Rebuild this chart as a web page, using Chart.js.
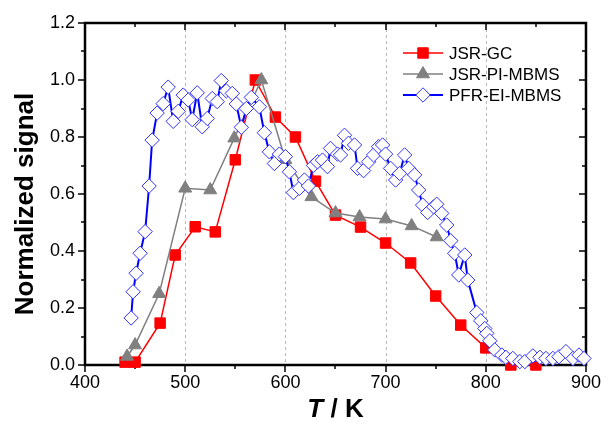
<!DOCTYPE html>
<html>
<head>
<meta charset="utf-8">
<script src="https://cdn.jsdelivr.net/npm/chart.js@4.4.0/dist/chart.umd.min.js"></script>
<style>
  html, body { margin: 0; padding: 0; background: #fff; }
  #wrap { width: 608px; height: 435px; }
</style>
</head>
<body>
<div id="wrap"><canvas id="chart" width="608" height="435"></canvas></div>
<script>
// JSR-GC (red squares)
const jsrGcT = [440, 450, 475, 490, 510, 530, 550, 570, 590, 610, 630, 650, 675, 700, 725, 750, 775, 800, 825, 850];
const jsrGcSignal = [0.01, 0.01, 0.147, 0.386, 0.485, 0.467, 0.72, 1.0, 0.87, 0.80, 0.645, 0.526, 0.484, 0.428, 0.358, 0.242, 0.14, 0.06, 0.0, 0.0];

// JSR-PI-MBMS (grey triangles)
const jsrPiT = [442, 450, 474, 500, 525, 549, 576, 600, 626, 650, 674, 700, 726, 751];
const jsrPiSignal = [0.03, 0.07, 0.25, 0.62, 0.614, 0.796, 1.0, 0.72, 0.59, 0.533, 0.519, 0.512, 0.488, 0.449];

// PFR-EI-MBMS (blue open diamonds)
const pfrT = [446, 448, 451, 455, 460, 464, 467, 472, 478, 483, 488, 493, 498, 503, 507, 512, 517, 522, 527, 532,
  536, 541, 547, 551, 556, 561, 566, 574, 579, 584, 589, 594, 600, 604, 608, 614, 619, 623, 628, 632,
  637, 642, 645, 652, 655, 659, 663, 669, 672, 678, 683, 688, 693, 697, 700, 705, 710, 714, 719, 723,
  729, 733, 737, 742, 748, 751, 756, 761, 765, 769, 773, 779, 782, 791, 795, 799, 801, 804, 809, 816,
  820, 827, 834, 839, 847, 854, 860, 867, 873, 880, 887, 893, 898];
const pfrSignal = [0.165, 0.257, 0.322, 0.392, 0.468, 0.628, 0.789, 0.884, 0.917, 0.975, 0.855, 0.89, 0.947, 0.93, 0.861, 0.955, 0.836, 0.865, 0.935, 0.924,
  0.998, 0.962, 0.953, 0.916, 0.834, 0.90, 0.939, 0.906, 0.815, 0.748, 0.707, 0.74, 0.731, 0.678, 0.605, 0.62, 0.649, 0.628, 0.70, 0.713,
  0.719, 0.696, 0.76, 0.74, 0.737, 0.806, 0.778, 0.772, 0.69, 0.682, 0.713, 0.737, 0.766, 0.772, 0.74, 0.69, 0.649, 0.672, 0.737, 0.69,
  0.667, 0.614, 0.561, 0.535, 0.555, 0.564, 0.532, 0.491, 0.436, 0.392, 0.316, 0.386, 0.298, 0.184, 0.155, 0.128, 0.111, 0.085, 0.053, 0.035,
  0.027, 0.023, 0.012, 0.012, 0.032, 0.027, 0.023, 0.023, 0.029, 0.047, 0.023, 0.035, 0.023];

const xTicks = [400, 500, 600, 700, 800, 900];
const yTicks = [0.0, 0.2, 0.4, 0.6, 0.8, 1.0, 1.2];
const gridX = [500, 600, 700, 800];
const seriesNames = ['JSR-GC', 'JSR-PI-MBMS', 'PFR-EI-MBMS'];

const FONT = '"Liberation Sans", Arial, sans-serif';

function toPoints(xs, ys) {
  return xs.map((x, i) => ({ x: x, y: ys[i] }));
}

// dashed grid, axis box, mirrored ticks, minor ticks, titles and legend
const framePlugin = {
  id: 'frame',
  beforeDatasetsDraw(chart) {
    const ctx = chart.ctx;
    const a = chart.chartArea;
    const xs = chart.scales.x, ys = chart.scales.y;
    ctx.save();
    // dashed vertical grid lines
    ctx.strokeStyle = '#b8b8b8';
    ctx.lineWidth = 1;
    ctx.setLineDash([3, 3]);
    ctx.beginPath();
    gridX.forEach(v => {
      const px = Math.round(xs.getPixelForValue(v)) + 0.5;
      ctx.moveTo(px, a.top); ctx.lineTo(px, a.bottom);
    });
    ctx.stroke();
    ctx.setLineDash([]);

    ctx.strokeStyle = '#000';
    ctx.lineWidth = 1.5;
    ctx.beginPath();
    for (let v = 400; v <= 900; v += 50) {
      const px = Math.round(xs.getPixelForValue(v));
      const len = v % 100 === 0 ? 7 : 4;
      ctx.moveTo(px, a.bottom); ctx.lineTo(px, a.bottom + len);
      ctx.moveTo(px, a.top); ctx.lineTo(px, a.top + len);
    }
    for (let i = 0; i <= 12; i++) {
      const py = Math.round(ys.getPixelForValue(i / 10));
      const len = i % 2 === 0 ? 7 : 4;
      ctx.moveTo(a.left, py); ctx.lineTo(a.left - len, py);
      ctx.moveTo(a.right, py); ctx.lineTo(a.right - len, py);
    }
    ctx.stroke();
    ctx.lineWidth = 2.5;
    ctx.strokeRect(a.left, a.top, a.right - a.left, a.bottom - a.top);
    ctx.restore();
  },
  afterDraw(chart) {
    const ctx = chart.ctx;
    const a = chart.chartArea;
    ctx.save();
    ctx.fillStyle = '#000';

    // y title
    ctx.save();
    ctx.translate(26, 204);
    ctx.rotate(-Math.PI / 2);
    ctx.font = 'bold 26px ' + FONT;
    ctx.textAlign = 'center';
    ctx.textBaseline = 'middle';
    ctx.fillText('Normalized signal', 0, 0);
    ctx.restore();

    // x title: italic T, upright " / K"
    ctx.textBaseline = 'middle';
    ctx.textAlign = 'left';
    ctx.font = 'italic bold 26px ' + FONT;
    const tW = ctx.measureText('T').width;
    ctx.font = 'bold 26px ' + FONT;
    const restW = ctx.measureText(' / K').width;
    const x0 = (a.left + a.right) / 2 - (tW + restW) / 2;
    ctx.font = 'italic bold 26px ' + FONT;
    ctx.fillText('T', x0, 410);
    ctx.font = 'bold 26px ' + FONT;
    ctx.fillText(' / K', x0 + tW, 410);

    // legend
    ctx.font = '17px ' + FONT;
    chart.data.datasets.forEach((ds, i) => {
      const y = 53 + i * 21;
      ctx.strokeStyle = ds.borderColor;
      ctx.lineWidth = ds.borderWidth;
      ctx.beginPath();
      ctx.moveTo(403, y); ctx.lineTo(443, y);
      ctx.stroke();
      ctx.fillStyle = ds.pointBackgroundColor;
      ctx.strokeStyle = ds.pointBorderColor;
      ctx.lineWidth = ds.pointBorderWidth;
      Chart.helpers.drawPoint(ctx, {
        pointStyle: ds.pointStyle,
        radius: ds.pointRadius,
        borderWidth: ds.pointBorderWidth
      }, 423, y);
      ctx.fillStyle = '#000';
      ctx.textAlign = 'left';
      ctx.fillText(ds.label, 449, y + 1);
    });
    ctx.restore();
  }
};

new Chart(document.getElementById('chart'), {
  type: 'scatter',
  data: {
    datasets: [
      {
        label: seriesNames[0],
        data: toPoints(jsrGcT, jsrGcSignal),
        showLine: true,
        borderColor: '#ff0000',
        borderWidth: 1.5,
        pointStyle: 'rect',
        pointRadius: 7.4,
        pointBackgroundColor: '#ff0000',
        pointBorderColor: '#ff0000',
        pointBorderWidth: 1,
        clip: false,
        order: 3
      },
      {
        label: seriesNames[1],
        data: toPoints(jsrPiT, jsrPiSignal),
        showLine: true,
        borderColor: '#808080',
        borderWidth: 1.5,
        pointStyle: 'triangle',
        pointRadius: 7.5,
        pointBackgroundColor: '#808080',
        pointBorderColor: '#808080',
        pointBorderWidth: 1,
        clip: false,
        order: 2
      },
      {
        label: seriesNames[2],
        data: toPoints(pfrT, pfrSignal),
        showLine: true,
        borderColor: '#0000ff',
        borderWidth: 2,
        pointStyle: 'rectRot',
        pointRadius: 7.2,
        pointBackgroundColor: '#ffffff',
        pointBorderColor: '#3030ff',
        pointBorderWidth: 1,
        clip: false,
        order: 1
      }
    ]
  },
  options: {
    responsive: false,
    animation: false,
    layout: { padding: { top: 23, right: 20, left: 0, bottom: 0 } },
    plugins: {
      legend: { display: false },
      tooltip: { enabled: false }
    },
    scales: {
      x: {
        type: 'linear',
        min: 400,
        max: 900,
        afterFit(s) { s.height = 70; },
        afterBuildTicks(s) { s.ticks = xTicks.map(v => ({ value: v })); },
        ticks: { color: '#000', font: { family: FONT, size: 18 }, padding: 7, maxRotation: 0 },
        grid: { display: false, drawTicks: false },
        border: { display: false }
      },
      y: {
        type: 'linear',
        min: 0,
        max: 1.2,
        afterFit(s) { s.width = 85; },
        afterBuildTicks(s) { s.ticks = yTicks.map(v => ({ value: v })); },
        ticks: {
          color: '#000',
          font: { family: FONT, size: 18 },
          padding: 10,
          callback: v => v.toFixed(1)
        },
        grid: { display: false, drawTicks: false },
        border: { display: false }
      }
    }
  },
  plugins: [framePlugin]
});
</script>
</body>
</html>
